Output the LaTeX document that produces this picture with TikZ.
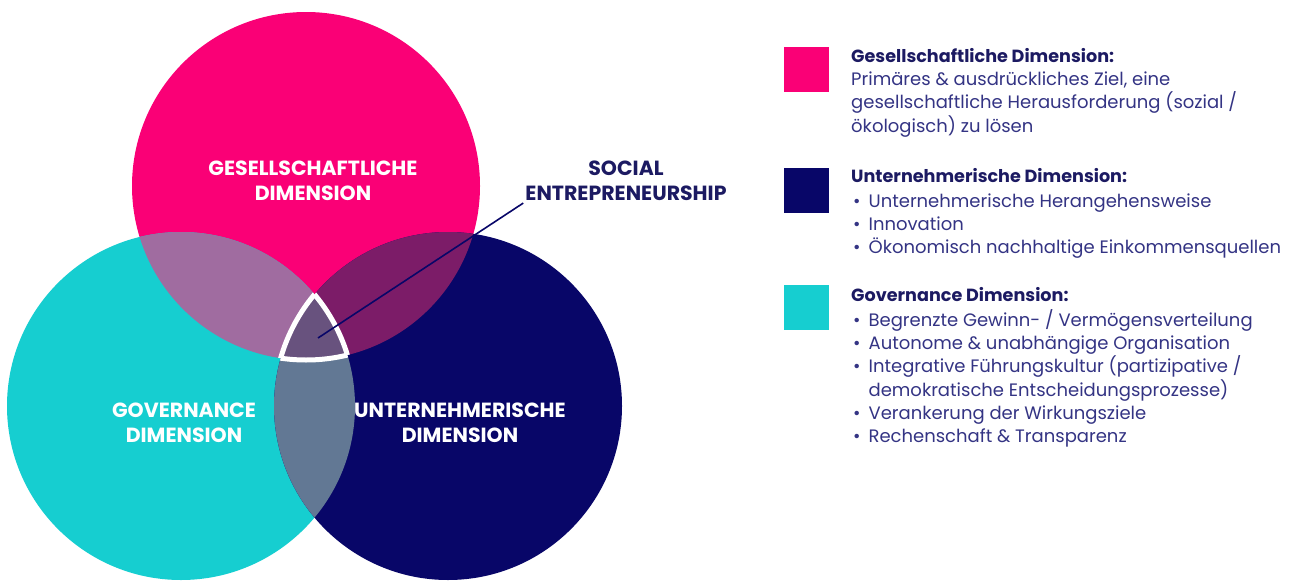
\documentclass[tikz,border=0pt]{standalone}
\usepackage{fontspec}
\setmainfont{Poppins}
\usetikzlibrary{positioning}

\definecolor{gesPink}{RGB}{250,0,118}
\definecolor{untNavy}{RGB}{8,6,104}
\definecolor{govTeal}{RGB}{22,206,208}
\definecolor{gesGov}{RGB}{160,108,160}
\definecolor{gesUnt}{RGB}{124,28,104}
\definecolor{govUnt}{RGB}{98,120,148}
\definecolor{allThree}{RGB}{104,82,126}
\definecolor{legHead}{RGB}{28,26,98}
\definecolor{legText}{RGB}{52,52,132}

\tikzset{
  dimlabel/.style={text=white, align=center, inner sep=2pt,
    font=\fontsize{20.5}{25}\selectfont\bfseries},
  legbox/.style={minimum size=45pt, inner sep=0pt},
  leghead/.style={anchor=base west, inner sep=0pt, text=legHead,
    font=\fontsize{17.6}{23}\selectfont\bfseries},
  legbody/.style={anchor=base west, inner sep=0pt, text=legText,
    font=\fontsize{18}{23}\selectfont},
}

\begin{document}
\begin{tikzpicture}[x=1pt,y=-1pt]
\useasboundingbox[fill=white] (0,0) rectangle (1306,581);

\def\rad{174pt}
\coordinate (gesC) at (306,186);
\coordinate (govC) at (181,406);
\coordinate (untC) at (448,406);
\coordinate (core) at (318,338);

\fill[gesPink] (gesC) circle[radius=\rad];
\fill[govTeal] (govC) circle[radius=\rad];
\fill[untNavy] (untC) circle[radius=\rad];

\begin{scope}
\clip (gesC) circle[radius=\rad];
\fill[gesGov] (govC) circle[radius=\rad];
\fill[gesUnt] (untC) circle[radius=\rad];
\end{scope}
\begin{scope}
\clip (govC) circle[radius=\rad];
\fill[govUnt] (untC) circle[radius=\rad];
\clip (gesC) circle[radius=\rad];
\fill[allThree] (untC) circle[radius=\rad];
\end{scope}

% white rim of the common part
\begin{scope}
\clip (govC) circle[radius=\rad];
\clip (gesC) circle[radius=\rad];
\draw[white, line width=5pt] (untC) circle[radius=\rad];
\end{scope}
\begin{scope}
\clip (untC) circle[radius=\rad];
\clip (gesC) circle[radius=\rad];
\draw[white, line width=5pt] (govC) circle[radius=\rad];
\end{scope}
\begin{scope}
\clip (govC) circle[radius=\rad];
\clip (untC) circle[radius=\rad];
\draw[white, line width=5pt] (gesC) circle[radius=\rad];
\end{scope}

\node[dimlabel] (gesL) at (313,181) {GESELLSCHAFTLICHE\\DIMENSION};
\node[dimlabel] (govL) at (184,423) {GOVERNANCE\\DIMENSION};
\node[dimlabel] (untL) at (460,423) {UNTERNEHMERISCHE\\DIMENSION};
\node[dimlabel, text=legHead] (se) at (626,181) {SOCIAL\\ENTREPRENEURSHIP};
\draw[untNavy, line width=1.6pt] (se.south west) -- (core);

% legend
\node[legbox, fill=gesPink] (gesBox) at (806,69.5) {};
\node[legbox, fill=untNavy] (untBox) at (806,190.5) {};
\node[legbox, fill=govTeal] (govBox) at (806,307.5) {};

\node[leghead] (gesHead) at (851,62) {Gesellschaftliche Dimension:};
\node[legbody] (gesBody) at (851,85) {\begin{tabular}[t]{@{}l@{}}
Primäres \& ausdrückliches Ziel, eine\\
gesellschaftliche Herausforderung (sozial /\\
ökologisch) zu lösen
\end{tabular}};

\node[leghead] (untHead) at (851,182) {Unternehmerische Dimension:};
\node[legbody] (untList) at (853,207) {\begin{tabular}[t]{@{}l@{\hspace{8pt}}l@{}}
\textbullet & Unternehmerische Herangehensweise\\
\textbullet & Innovation\\
\textbullet & Ökonomisch nachhaltige Einkommensquellen
\end{tabular}};

\node[leghead] (govHead) at (851,301) {Governance Dimension:};
\node[legbody] (govList) at (853,326) {\begin{tabular}[t]{@{}l@{\hspace{8pt}}l@{}}
\textbullet & Begrenzte Gewinn- / Vermögensverteilung\\
\textbullet & Autonome \& unabhängige Organisation\\
\textbullet & Integrative Führungskultur (partizipative /\\
 & demokratische Entscheidungsprozesse)\\
\textbullet & Verankerung der Wirkungsziele\\
\textbullet & Rechenschaft \& Transparenz
\end{tabular}};
\end{tikzpicture}
\end{document}
